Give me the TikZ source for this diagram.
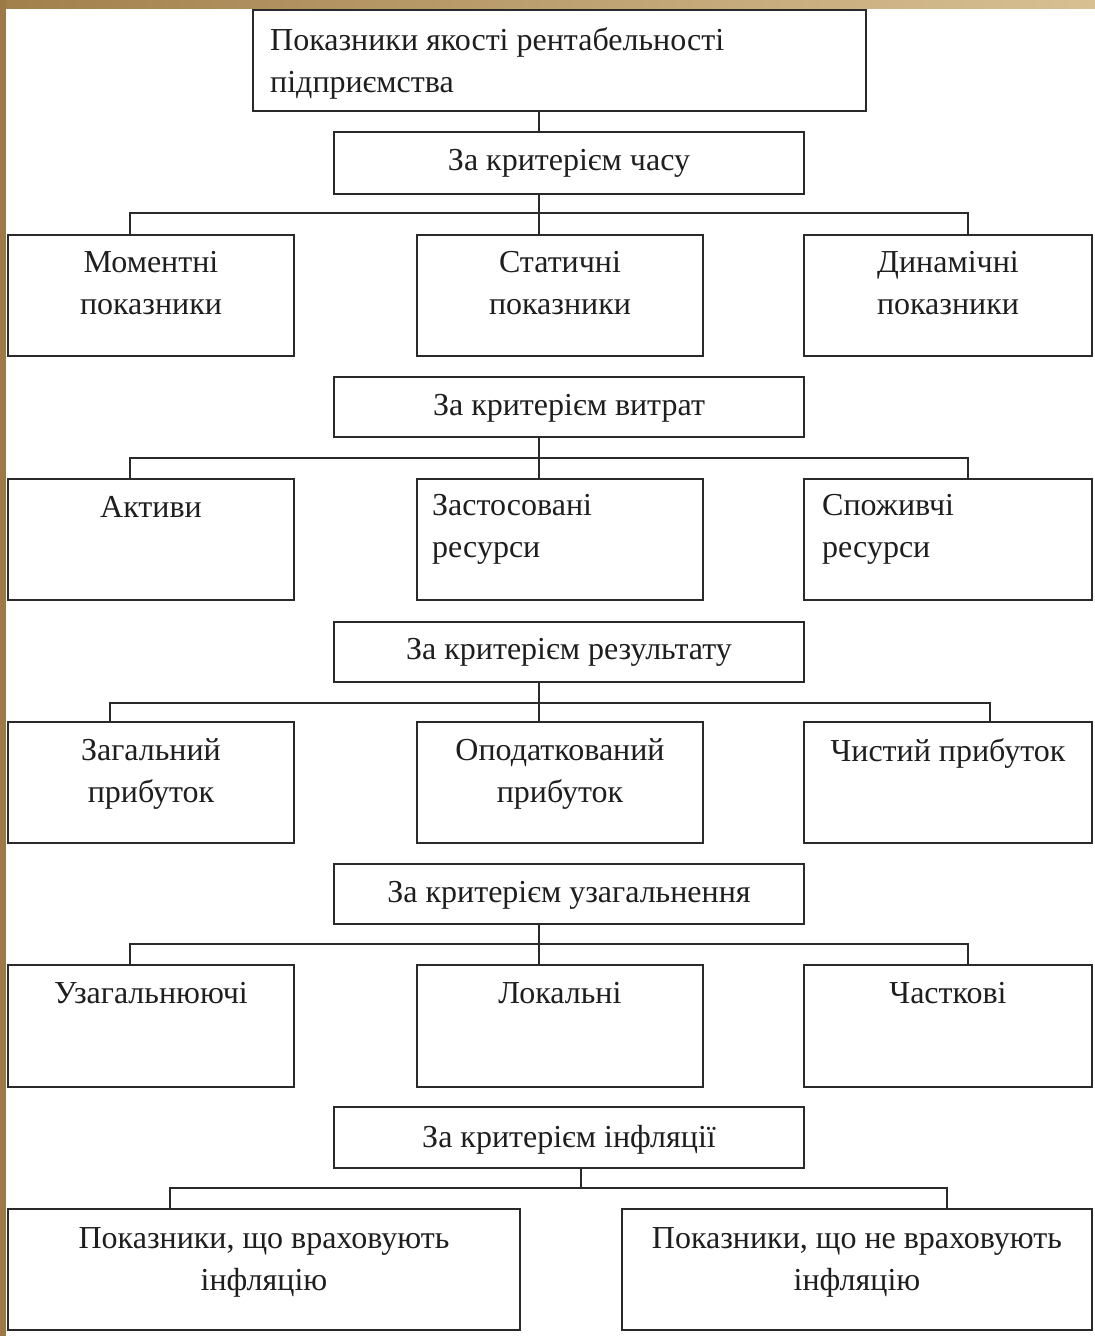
\documentclass[tikz,border=0pt]{standalone}
\usepackage{fontspec}
\setmainfont{Liberation Serif}
\definecolor{linec}{HTML}{2A2A2A}
\definecolor{txt}{HTML}{1E1E1E}
\definecolor{goldL}{HTML}{A2804C}
\definecolor{goldR}{HTML}{D8C093}
\definecolor{stripL}{HTML}{9C7A47}
\newcommand\mybox[5]{\node[box, minimum width={(#4-#2)*1pt}, minimum height={(#5-#3)*1pt}] (#1) at ({(#2+#4)/2},{(#3+#5)/2}) {};}
\begin{document}
\begin{tikzpicture}[x=1pt,y=-1pt,
  box/.style={draw=linec, line width=1.8pt, inner sep=0pt, outer sep=0pt, fill=white},
  lbl/.style={inner sep=0pt, text=txt, font=\fontsize{32}{42}\selectfont},
  conn/.style={draw=linec, line width=1.8pt}]
\useasboundingbox (0,0) rectangle (1095,1336);
\fill[white] (0,0) rectangle (1095,1336);
\shade[left color=goldL, right color=goldR] (0,0) rectangle (1095,8);
\fill[stripL] (0,0) rectangle (6,1336);

% boxes
\mybox{top}{253}{10}{866}{111}
\mybox{ca}{334}{132}{804}{194}
\mybox{a1}{8}{235}{294}{356}
\mybox{a2}{417}{235}{703}{356}
\mybox{a3}{804}{235}{1092}{356}
\mybox{cb}{334}{377}{804}{437}
\mybox{b1}{8}{479}{294}{600}
\mybox{b2}{417}{479}{703}{600}
\mybox{b3}{804}{479}{1092}{600}
\mybox{cc}{334}{622}{804}{682}
\mybox{d1}{8}{722}{294}{843}
\mybox{d2}{417}{722}{703}{843}
\mybox{d3}{804}{722}{1092}{843}
\mybox{cd}{334}{864}{804}{924}
\mybox{e1}{8}{965}{294}{1087}
\mybox{e2}{417}{965}{703}{1087}
\mybox{e3}{804}{965}{1092}{1087}
\mybox{ce}{334}{1107}{804}{1168}
\mybox{f1}{8}{1209}{520}{1330}
\mybox{f2}{622}{1209}{1092}{1330}

% texts
\node[lbl, anchor=north west, align=left] (ttop) at (270,27) {Показники якості рентабельності\\підприємства};
\node[lbl, anchor=north] (tca) at (569,149) {За критерієм часу};
\node[lbl, anchor=north, align=center] (ta1) at (151,251) {Моментні\\показники};
\node[lbl, anchor=north, align=center] (ta2) at (560,251) {Статичні\\показники};
\node[lbl, anchor=north, align=center] (ta3) at (948,251) {Динамічні\\показники};
\node[lbl, anchor=north] (tcb) at (569,394) {За критерієм витрат};
\node[lbl, anchor=north] (tb1) at (151,496) {Активи};
\node[lbl, anchor=north west, align=left] (tb2) at (432,494) {Застосовані\\ресурси};
\node[lbl, anchor=north west, align=left] (tb3) at (822,494) {Споживчі\\ресурси};
\node[lbl, anchor=north] (tcc) at (569,638) {За критерієм результату};
\node[lbl, anchor=north, align=center] (td1) at (151,738) {Загальний\\прибуток};
\node[lbl, anchor=north, align=center] (td2) at (560,738) {Оподаткований\\прибуток};
\node[lbl, anchor=north] (td3) at (948,738) {Чистий прибуток};
\node[lbl, anchor=north] (tcd) at (569,881) {За критерієм узагальнення};
\node[lbl, anchor=north] (te1) at (151,982) {Узагальнюючі};
\node[lbl, anchor=north] (te2) at (560,982) {Локальні};
\node[lbl, anchor=north] (te3) at (948,982) {Часткові};
\node[lbl, anchor=north] (tce) at (569,1125) {За критерієм інфляції};
\node[lbl, anchor=north, align=center] (tf1) at (264,1227) {Показники, що враховують\\інфляцію};
\node[lbl, anchor=north, align=center] (tf2) at (857,1227) {Показники, що не враховують\\інфляцію};

% connectors
\coordinate (k0) at (539,0);
\draw[conn] (top.south -| k0) -- (ca.north -| k0);

\coordinate (ha) at (539,213);
\coordinate (haL) at (130,213);
\coordinate (haR) at (968,213);
\draw[conn] (ca.south -| ha) -- (a2.north -| ha);
\draw[conn] (a1.north -| haL) -- (haL) -- (haR) -- (a3.north -| haR);

\coordinate (hb) at (539,458);
\coordinate (hbL) at (130,458);
\coordinate (hbR) at (968,458);
\draw[conn] (cb.south -| hb) -- (b2.north -| hb);
\draw[conn] (b1.north -| hbL) -- (hbL) -- (hbR) -- (b3.north -| hbR);

\coordinate (hc) at (539,703);
\coordinate (hcL) at (110,703);
\coordinate (hcR) at (990,703);
\draw[conn] (cc.south -| hc) -- (d2.north -| hc);
\draw[conn] (d1.north -| hcL) -- (hcL) -- (hcR) -- (d3.north -| hcR);

\coordinate (hd) at (539,944);
\coordinate (hdL) at (130,944);
\coordinate (hdR) at (968,944);
\draw[conn] (cd.south -| hd) -- (e2.north -| hd);
\draw[conn] (e1.north -| hdL) -- (hdL) -- (hdR) -- (e3.north -| hdR);

\coordinate (he) at (581,1188);
\coordinate (heL) at (170,1188);
\coordinate (heR) at (947,1188);
\draw[conn] (ce.south -| he) -- (he);
\draw[conn] (f1.north -| heL) -- (heL) -- (heR) -- (f2.north -| heR);
\end{tikzpicture}
\end{document}
